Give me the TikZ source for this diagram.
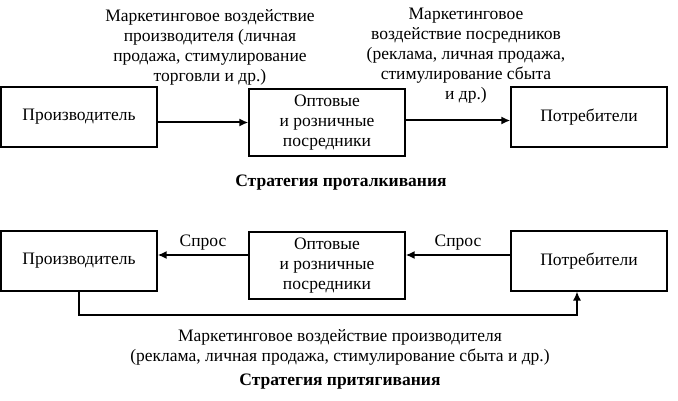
\documentclass[tikz,border=0pt]{standalone}
\usepackage{fontspec}
\setmainfont{Liberation Serif}
\usepackage{tikz}
\usetikzlibrary{arrows.meta}
\tikzstyle{agentbox} = [draw=black, fill=white, line width=1.2pt,
    rectangle, align=center, inner sep=2pt, font=\fontsize{17.5}{20}\selectfont]
\tikzstyle{notetext} =[align=center, inner sep=1pt, font=\fontsize{17.5}{20}\selectfont]
\tikzstyle{boldtitle} =[inner sep=1pt, font=\fontsize{17.5}{20}\selectfont\bfseries]
\tikzstyle{flowarrow} = [line width=2pt, -{Latex[length=9pt,width=8pt]}]

\begin{document}
\begin{tikzpicture}[x=1pt, y=-1pt]
                \useasboundingbox (0,0) rectangle (678,401);
                % push strategy
                \node [agentbox, minimum width=156pt, minimum height=60pt] (prodA) at (79,117) {Производитель};
                \node [agentbox, minimum width=156pt, minimum height=67pt] (midA) at (327,122.5) {Оптовые\\и розничные\\посредники};
                \node [agentbox, minimum width=156pt, minimum height=60pt] (consA) at (589,117) {Потребители};
                \node [notetext] (noteA) at (210,47) {Маркетинговое воздействие\\производителя (личная\\продажа, стимулирование\\торговли и др.)};
                \node [notetext] (noteB) at (466,56) {Маркетинговое\\воздействие посредников\\(реклама, личная продажа,\\стимулирование сбыта\\и др.)};
                \draw [flowarrow] (prodA.east |- midA.west) -- (midA.west);
                \draw [flowarrow] ([yshift=2pt]midA.east) -- ([yshift=2pt]midA.east -| consA.west);
                \node [boldtitle] (pushtitle) at (341,183) {Стратегия проталкивания};
                % pull strategy
                \node [agentbox, minimum width=156pt, minimum height=60pt] (prodB) at (79,261) {Производитель};
                \node [agentbox, minimum width=156pt, minimum height=67pt] (midB) at (327,265.5) {Оптовые\\и розничные\\посредники};
                \node [agentbox, minimum width=156pt, minimum height=60pt] (consB) at (589,261) {Потребители};
                \draw [flowarrow] ([yshift=6pt]consB.west) -- ([yshift=6pt]consB.west -| midB.east)
                    node [notetext, midway, above=3pt] (demandB) {Спрос};
                \draw [flowarrow] ([yshift=6pt]consB.west -| midB.west) -- ([yshift=6pt]prodB.east)
                    node [notetext, midway, above=3pt] (demandA) {Спрос};
                \coordinate (turn) at (577,315);
                \draw [flowarrow, line width=1.3pt] (prodB.south) |- (turn) -- (turn |- consB.south);
                \node [notetext] (noteC) at (340,347.5) {Маркетинговое воздействие производителя\\(реклама, личная продажа, стимулирование сбыта и др.)};
                \node [boldtitle] (pulltitle) at (340,382) {Стратегия притягивания};
            \end{tikzpicture}
\end{document}
